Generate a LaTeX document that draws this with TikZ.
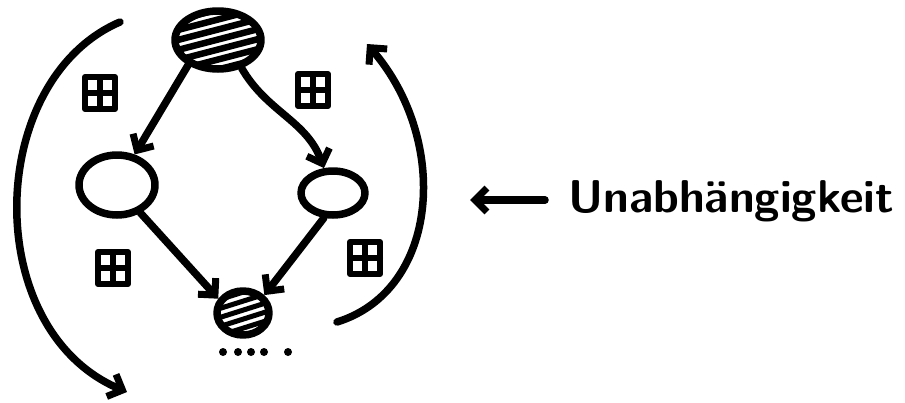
\documentclass[tikz,border=0pt]{standalone}
\usetikzlibrary{arrows.meta,shapes.geometric}
\begin{document}
\begin{tikzpicture}[x=1pt,y=-1pt,
  pen/.style={line width=7.5pt,line cap=round,line join=round},
  arr/.style={pen,-{Straight Barb[length=12pt,width=24pt,line width=7pt]}},
  grid/.style={pen,line width=6pt},
  hatch/.style={line width=6.5pt,line cap=round},
  dot/.style={circle,fill,inner sep=0pt,minimum size=8pt}]
\useasboundingbox (0,0) rectangle (905,402);
% nodes
\node[pen,draw,ellipse,minimum width=86pt,minimum height=58pt,inner sep=0pt] (top) at (218,40) {};
\begin{scope}
\clip (218,40) ellipse (42pt and 28pt);
\foreach \d in {-40,-30,...,50}{
  \draw[hatch] (170,{40+\d+12}) -- (270,{40+\d-14});
}
\end{scope}
\node[pen,draw,ellipse,minimum width=76pt,minimum height=60pt,inner sep=0pt] (left) at (117,185) {};
\node[pen,draw,ellipse,minimum width=64pt,minimum height=44pt,inner sep=0pt] (right) at (333,193) {};
\node[pen,draw,ellipse,minimum width=52pt,minimum height=44pt,inner sep=0pt] (bot) at (243,313) {};
\begin{scope}
\clip (243,313) ellipse (25pt and 21pt);
\foreach \d in {-20,-11,...,30}{
  \draw[hatch,line width=5pt] (215,{313+\d+8}) -- (272,{313+\d-10});
}
\end{scope}
% dots
\foreach \i/\x in {1/223,2/238,3/251,4/264,5/288}{
  \node[dot] (d\i) at (\x,352) {};
}
% connectors
\draw[arr] (top.220) -- (left.60);
\draw[arr] (top.-50) to[out=-60,in=110] (right.110);
\draw[arr] (left.-50) -- (bot.150);
\draw[arr] (right.-110) -- (bot.40);
% big curved arrows
\coordinate (la) at (120,22);
\coordinate (lb) at (127,392);
\draw[arr] (la) .. controls (-15,80) and (-20,330) .. (lb);
\coordinate (ra) at (337,322);
\coordinate (rb) at (367,44);
\draw[arr] (ra) .. controls (440,290) and (450,140) .. (rb);
% grid symbols
\foreach \n/\x/\y in {g1/100/93, g2/313/90, g3/113/268, g4/365/258}{
  \begin{scope}[shift={(\x,\y)}]
  \draw[grid] (-15,-16) rectangle (15,16);
  \draw[grid] (0,-16) -- (0,16);
  \draw[grid] (-15,0) -- (15,0);
  \end{scope}
}
% label
\coordinate (ua) at (545,200);
\coordinate (ub) at (470,200);
\draw[arr] (ua) -- (ub);
\node[anchor=west,font=\sffamily\bfseries\fontsize{46}{50}\selectfont,inner sep=0pt] (txt) at (568,201) {Unabhängigkeit};
\end{tikzpicture}
\end{document}
